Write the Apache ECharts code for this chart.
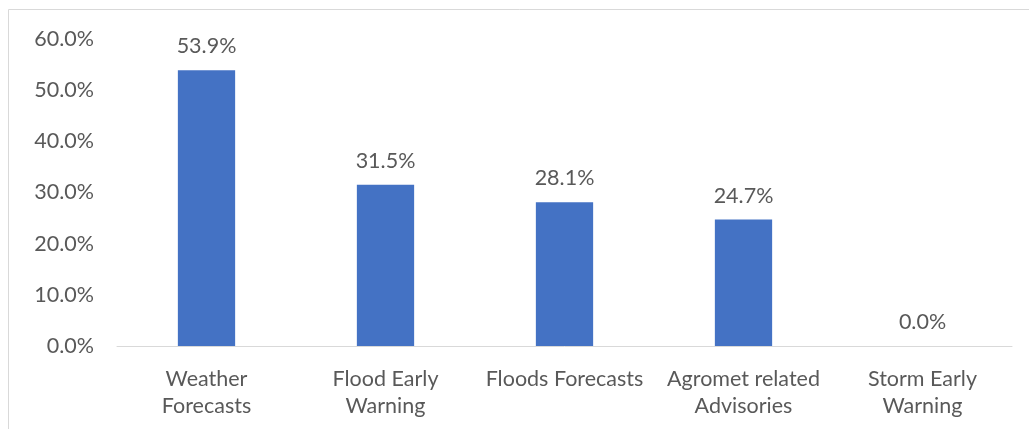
<!DOCTYPE html>
<html>
<head>
<meta charset="utf-8">
<script src="https://cdn.jsdelivr.net/npm/echarts@6/dist/echarts.min.js"></script>
<style>
    html, body { margin: 0; padding: 0; background: #fff; }
    #chart { width: 1029px; height: 429px; }
</style>
</head>
<body>
<div id="chart"></div>
<script>
    // 各类服务所占比例
    const categories = ['Weather\nForecasts', 'Flood Early\nWarning', 'Floods Forecasts', 'Agromet related\nAdvisories', 'Storm Early\nWarning'];
    const values = [53.9, 31.5, 28.1, 24.7, 0.0];
    const yTicks = [0, 10, 20, 30, 40, 50, 60];

    const textColor = '#595959';
    const fontFamily = 'Lato, "Open Sans", sans-serif';

    let myChart = echarts.init(document.getElementById('chart'));
    const option = {
        color: ['#4472C4'],
        textStyle: { fontFamily: fontFamily },
        graphic: [{
            type: 'rect',
            shape: { x: 8.5, y: 9.5, width: 1100, height: 500 },
            style: { fill: 'none', stroke: '#d9d9d9', lineWidth: 1 },
            silent: true
        }],
        grid: {
            left: 117,
            right: 17,
            top: 39,
            bottom: 83
        },
        xAxis: {
            type: 'category',
            data: categories,
            axisTick: { show: false },
            axisLine: { lineStyle: { color: '#d9d9d9', width: 1 } },
            axisLabel: {
                interval: 0,
                color: textColor,
                fontSize: 21.5,
                lineHeight: 27,
                margin: 20,
                fontFamily: fontFamily
            }
        },
        yAxis: {
            type: 'value',
            min: yTicks[0],
            max: yTicks[yTicks.length - 1],
            interval: 10,
            splitLine: { show: false },
            axisLine: { show: false },
            axisTick: { show: false },
            axisLabel: {
                color: textColor,
                fontSize: 21.5,
                margin: 23,
                fontFamily: fontFamily,
                formatter: function (v) { return v.toFixed(1) + '%'; }
            }
        },
        series: [{
            type: 'bar',
            data: values,
            barWidth: '32%',
            label: {
                show: true,
                position: 'top',
                distance: 13,
                color: textColor,
                fontSize: 21.5,
                fontFamily: fontFamily,
                formatter: function (p) { return p.value.toFixed(1) + '%'; }
            }
        }]
    };
    myChart.setOption(option);
</script>
</body>
</html>
